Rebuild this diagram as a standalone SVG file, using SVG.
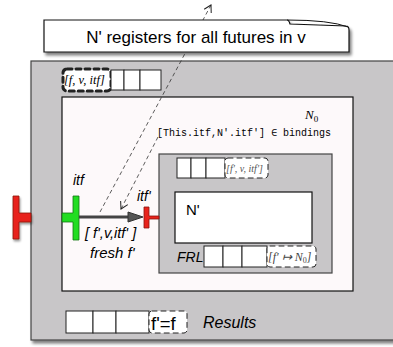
<svg xmlns="http://www.w3.org/2000/svg" width="393" height="347" viewBox="0 0 393 347">
<defs>
<filter id="sh" x="-10%" y="-10%" width="130%" height="130%">
<feGaussianBlur in="SourceAlpha" stdDeviation="1.5"/>
<feOffset dx="2" dy="3" result="b"/>
<feComponentTransfer><feFuncA type="linear" slope="0.5"/></feComponentTransfer>
<feMerge><feMergeNode/><feMergeNode in="SourceGraphic"/></feMerge>
</filter>
<filter id="sh2" x="-20%" y="-10%" width="160%" height="130%">
<feGaussianBlur in="SourceAlpha" stdDeviation="1"/>
<feOffset dx="1" dy="2"/>
<feComponentTransfer><feFuncA type="linear" slope="0.4"/></feComponentTransfer>
<feMerge><feMergeNode/><feMergeNode in="SourceGraphic"/></feMerge>
</filter>
<marker id="open" markerWidth="10" markerHeight="10" refX="8" refY="5" orient="auto" markerUnits="userSpaceOnUse">
<path d="M1,1 L8,5 L1,9" fill="none" stroke="#222" stroke-width="1"/>
</marker>
</defs>
<style>
.gray{fill:#c8c6c8;stroke:#444;stroke-width:1.2}
.white{fill:#fdf9fa;stroke:#111;stroke-width:1.2}
.cell{fill:#fff;stroke:#222;stroke-width:1}
.dl{fill:#fff;stroke:#222;stroke-dasharray:5,4;stroke-linecap:round}
.sans{font-family:"Liberation Sans",Arial,sans-serif}
.it{font-style:italic}
.math{font-family:"Liberation Serif","Times New Roman",serif;font-style:italic}
.tt{font-family:"Liberation Mono","Courier New",monospace}
.dash{fill:none;stroke:#333;stroke-width:0.8;stroke-dasharray:4,3}
</style>

<g id="outer">
<rect class="gray" x="31" y="61" width="370" height="279" filter="url(#sh)"/>
</g>

<g id="outer-queue">
<rect class="dl" x="63" y="69" width="48" height="22" rx="4" stroke-width="3" stroke="#111" stroke-dasharray="7,6"/>
<text class="math" x="64" y="84" font-size="12.5">[f, v, itf]</text>
<rect class="cell" x="111" y="70" width="13" height="20"/>
<rect class="cell" x="124" y="70" width="16" height="20"/>
<rect class="cell" x="140" y="70" width="21" height="20"/>
</g>

<g id="N0">
<rect class="white" x="62" y="97" width="291" height="194"/>
<text class="math" x="305" y="119" font-size="13" font-style="italic">N<tspan font-size="9" dy="3" font-style="normal">0</tspan></text>
<text class="tt" x="157" y="136" font-size="10">[This.itf,N'.itf'] ∈ bindings</text>
</g>

<g id="Nprime-container">
<rect class="gray" x="159" y="154" width="173" height="119"/>
<rect class="cell" x="177" y="158" width="14" height="20"/>
<rect class="cell" x="191" y="158" width="15" height="20"/>
<rect class="cell" x="206" y="158" width="19" height="20"/>
<rect class="dl" x="225" y="158" width="43" height="20" rx="3" stroke="#888"/>
<text class="math" x="226" y="172" font-size="10" fill="#555">[f′, v, itf′]</text>
</g>

<g id="Nprime">
<rect x="175" y="192" width="137" height="51" fill="#fff" stroke="#111" stroke-width="1.2"/>
<text class="sans" x="186" y="215" font-size="15">N'</text>
</g>

<g id="FRL">
<text class="sans it" x="177" y="262" font-size="14">FRL</text>
<rect class="cell" x="204" y="246" width="19" height="21"/>
<rect class="cell" x="223" y="246" width="19" height="21"/>
<rect class="cell" x="242" y="246" width="25" height="21"/>
<rect class="dl" x="267" y="246" width="49" height="21" rx="3" stroke="#888"/>
<text class="math" x="268" y="261" font-size="12" fill="#444">[f′ ↦ N<tspan font-size="8" dy="2" font-style="normal">0</tspan><tspan dy="-2">]</tspan></text>
</g>

<g id="results">
<rect class="cell" x="66" y="311" width="27" height="22"/>
<rect class="cell" x="93" y="311" width="23" height="22"/>
<rect class="cell" x="116" y="311" width="33" height="22"/>
<rect class="dl" x="149" y="311" width="38" height="22" rx="3" stroke="#888"/>
<text class="sans" x="151" y="330" font-size="18.5">f'=f</text>
<text class="sans it" x="203" y="328" font-size="16">Results</text>
</g>

<g id="ports">
<path d="M13,196 H19 V213 H31 V222 H19 V239 H13 Z" fill="#e8231c" stroke="#8a1410" stroke-width="0.8" filter="url(#sh2)"/>
<path d="M62,213 H73 V196 H79 V240 H73 V222 H62 Z" fill="#22dd22" stroke="#117711" stroke-width="0.8"/>
<path d="M144,207 H149 V216 H159 V219 H149 V228 H144 Z" fill="#e8231c" stroke="#8a1410" stroke-width="0.8"/>
</g>

<g id="connectors">
<line x1="79" y1="217" x2="130" y2="217" stroke="#444" stroke-width="3"/>
<path d="M128,212 L143,217 L128,222 Z" fill="#555" stroke="#333" stroke-width="1"/>
<line class="dash" x1="100" y1="212" x2="211" y2="5" marker-end="url(#open)"/>
<line class="dash" x1="158" y1="137" x2="121" y2="209" marker-end="url(#open)"/>
</g>

<g id="labels">
<text class="sans it" x="73" y="185" font-size="14">itf</text>
<text class="sans it" x="137" y="201" font-size="14">itf'</text>
<text class="sans it" x="85" y="238" font-size="14.5">[ f',v,itf' ]</text>
<text class="sans it" x="90" y="258" font-size="15">fresh f'</text>
</g>

<g id="callout">
<path d="M44,20 H287 Q289,20 290,24 L346,26 Q349,26 349,30 V52 H44 Z" fill="#fff" stroke="#111" stroke-width="1.2" filter="url(#sh)"/>
<path d="M287,20 Q330,20 348,27" fill="none" stroke="#111" stroke-width="1"/>
<text class="sans" x="196" y="43" font-size="17" text-anchor="middle">N' registers for all futures in v</text>
</g>
</svg>
